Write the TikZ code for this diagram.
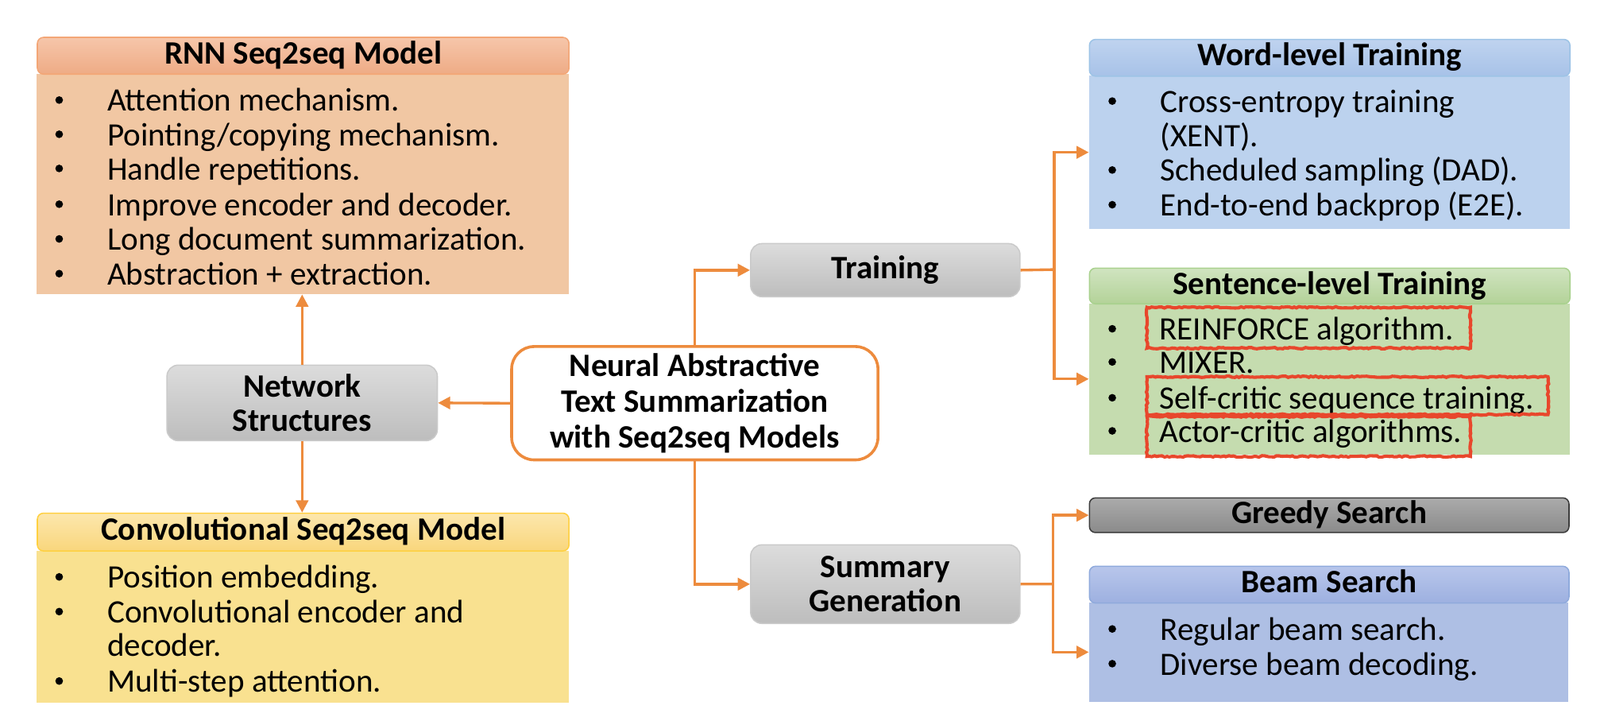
\documentclass[tikz,border=0pt]{standalone}
\usepackage{fontspec}
\setmainfont{Carlito}
\usetikzlibrary{arrows.meta,decorations.pathmorphing}
\definecolor{arr}{HTML}{ED8B3D}
\definecolor{rnnA}{HTML}{F6C6AA}\definecolor{rnnB}{HTML}{EEAB85}\definecolor{rnnD}{HTML}{F3A676}\definecolor{rnnF}{HTML}{F1C7A3}
\definecolor{cnvA}{HTML}{FCE7AD}\definecolor{cnvB}{HTML}{F9D67C}\definecolor{cnvD}{HTML}{FFD040}\definecolor{cnvF}{HTML}{F9E190}
\definecolor{wrdA}{HTML}{BFD3EF}\definecolor{wrdB}{HTML}{A7C2E8}\definecolor{wrdD}{HTML}{9DC3E6}\definecolor{wrdF}{HTML}{BCD2EE}
\definecolor{sntA}{HTML}{D0E4C0}\definecolor{sntB}{HTML}{B3D298}\definecolor{sntD}{HTML}{A9D18E}\definecolor{sntF}{HTML}{C5DCAF}
\definecolor{bmA}{HTML}{B8C6EB}\definecolor{bmB}{HTML}{9DB0E0}\definecolor{bmD}{HTML}{8FAADC}\definecolor{bmF}{HTML}{AEBFE4}
\definecolor{grA}{HTML}{ABABAB}\definecolor{grB}{HTML}{8A8A8A}\definecolor{grD}{HTML}{3C3C3C}
\definecolor{gyA}{HTML}{DCDCDC}\definecolor{gyB}{HTML}{BDBDBD}\definecolor{gyD}{HTML}{CACACA}
\definecolor{hl}{HTML}{E8472C}
\newcommand{\bitem}[5]{%
  \node[bdot] (#1b) at (#2,#4-1) {};
  \node[txt, anchor=base west] (#1) at (#3,#4+10) {#5};}
\newcommand{\bcont}[4]{%
  \node[txt, anchor=base west] (#1) at (#2,#3+10) {#4};}
\begin{document}
\begin{tikzpicture}[x=1pt,y=-1pt,
  txt/.style={font=\fontsize{32}{34}\selectfont, inner sep=0pt},
  bdot/.style={circle, fill=black, inner sep=0pt, minimum size=7.5pt},
  hdr/.style={rounded corners=6pt, line width=1.2pt, inner sep=0pt, anchor=north west,
    font=\fontsize{32}{34}\selectfont\bfseries, text height=22pt, text depth=6pt},
  bodybox/.style={inner sep=0pt, anchor=north west, draw=none},
  graybox/.style={rounded corners=11pt, line width=1.2pt, draw=gyD, top color=gyA, bottom color=gyB,
    inner sep=0pt, anchor=north west, align=center, font=\fontsize{32}{34}\selectfont\bfseries},
  conn/.style={draw=arr, line width=2.6pt},
  arrow/.style={conn, -{Triangle[length=12pt,width=12pt]}},
  hlbox/.style={draw=hl, line width=3.2pt, decorate, decoration={random steps, segment length=2.5pt, amplitude=0.7pt}}
]
\useasboundingbox (0,0) rectangle (1568,705.4);
% ---------- left boxes ----------
\node[bodybox, fill=rnnF, minimum width=521pt, minimum height=216pt] (rnnb) at (36,72) {};
\node[hdr, draw=rnnD, top color=rnnA, bottom color=rnnB, minimum width=521pt, minimum height=36pt] (rnnh) at (36,36) {RNN Seq2seq Model};
\bitem{r1}{58}{105}{99}{Attention mechanism.}
\bitem{r2}{58}{105}{132.5}{Pointing/copying mechanism.}
\bitem{r3}{58}{105}{166}{Handle repetitions.}
\bitem{r4}{58}{105}{201}{Improve encoder and decoder.}
\bitem{r5}{58}{105}{235}{Long document summarization.}
\bitem{r6}{58}{105}{269}{Abstraction + extraction.}

\node[bodybox, fill=cnvF, minimum width=521pt, minimum height=149pt] (cnvb) at (36,539) {};
\node[hdr, draw=cnvD, top color=cnvA, bottom color=cnvB, minimum width=521pt, minimum height=37pt] (cnvh) at (36,502) {Convolutional Seq2seq Model};
\bitem{c1}{58}{105}{566}{Position embedding.}
\bitem{c2}{58}{105}{600}{Convolutional encoder and}
\bcont{c2x}{105}{633}{decoder.}
\bitem{c3}{58}{105}{668}{Multi-step attention.}

% ---------- gray boxes ----------
\node[graybox, minimum width=265pt, minimum height=74pt] (net) at (163,357) {Network\\Structures};
\node[rounded corners=22pt, draw=arr, line width=2.8pt, fill=white, inner sep=0pt, anchor=north west,
  minimum width=359pt, minimum height=111pt, align=center,
  font=\fontsize{32}{35}\selectfont\bfseries] (cen) at (500,338) {Neural Abstractive\\Text Summarization\\with Seq2seq Models};
\node[graybox, minimum width=264pt, minimum height=52pt] (trn) at (735,238) {Training};
\node[graybox, minimum width=264pt, minimum height=77pt] (sum) at (735,533) {Summary\\Generation};

% ---------- right boxes ----------
\node[bodybox, fill=wrdF, minimum width=471pt, minimum height=150pt] (wrdb) at (1067,74) {};
\node[hdr, draw=wrdD, top color=wrdA, bottom color=wrdB, minimum width=471pt, minimum height=36pt] (wrdh) at (1067,38) {Word-level Training};
\bitem{w1}{1090}{1137}{100}{Cross-entropy training}
\bcont{w1x}{1137}{134}{(XENT).}
\bitem{w2}{1090}{1137}{167.5}{Scheduled sampling (DAD).}
\bitem{w3}{1090}{1137}{201.5}{End-to-end backprop (E2E).}

\node[bodybox, fill=sntF, minimum width=471pt, minimum height=148pt] (sntb) at (1067,297) {};
\node[hdr, draw=sntD, top color=sntA, bottom color=sntB, minimum width=471pt, minimum height=35pt] (snth) at (1067,262) {Sentence-level Training};
\bitem{s1}{1090}{1136}{323}{REINFORCE algorithm.}
\bitem{s2}{1090}{1136}{355.5}{MIXER.}
\bitem{s3}{1090}{1136}{390.6}{Self-critic sequence training.}
\bitem{s4}{1090}{1136}{423}{Actor-critic algorithms.}
\draw[hlbox] (1124,301) rectangle (1441,341);
\draw[hlbox] (1124,369) rectangle (1517,406);
\draw[hlbox] (1124,408) rectangle (1441,447);

\node[hdr, draw=grD, top color=grA, bottom color=grB, minimum width=470pt, minimum height=34pt] (grd) at (1067,487) {Greedy Search};

\node[bodybox, fill=bmF, minimum width=470pt, minimum height=97pt] (bmb) at (1067,590) {};
\node[hdr, draw=bmD, top color=bmA, bottom color=bmB, minimum width=470pt, minimum height=36pt] (bmh) at (1067,554) {Beam Search};
\bitem{b1}{1090}{1137}{617}{Regular beam search.}
\bitem{b2}{1090}{1137}{651}{Diverse beam decoding.}

% ---------- connectors ----------
\draw[arrow] (cen.west) -- (net.east);
\draw[arrow] (net.north) -- (net.north |- rnnb.south);
\draw[arrow] (net.south) -- (net.south |- cnvh.north);
\draw[arrow] (cen.north) |- (trn.west);
\draw[arrow] (cen.south) |- (sum.west);
\coordinate (tj) at (1033,264);
\coordinate (sj) at (1032,572);
\draw[conn] (trn.east) -- (tj);
\draw[arrow] (tj) |- (wrdb.west);
\draw[arrow] (tj) |- (sntb.west);
\draw[conn] (sum.east) -- (sj);
\draw[arrow] (sj) |- (grd.west);
\draw[arrow] (sj) |- (bmb.west);
\end{tikzpicture}
\end{document}
